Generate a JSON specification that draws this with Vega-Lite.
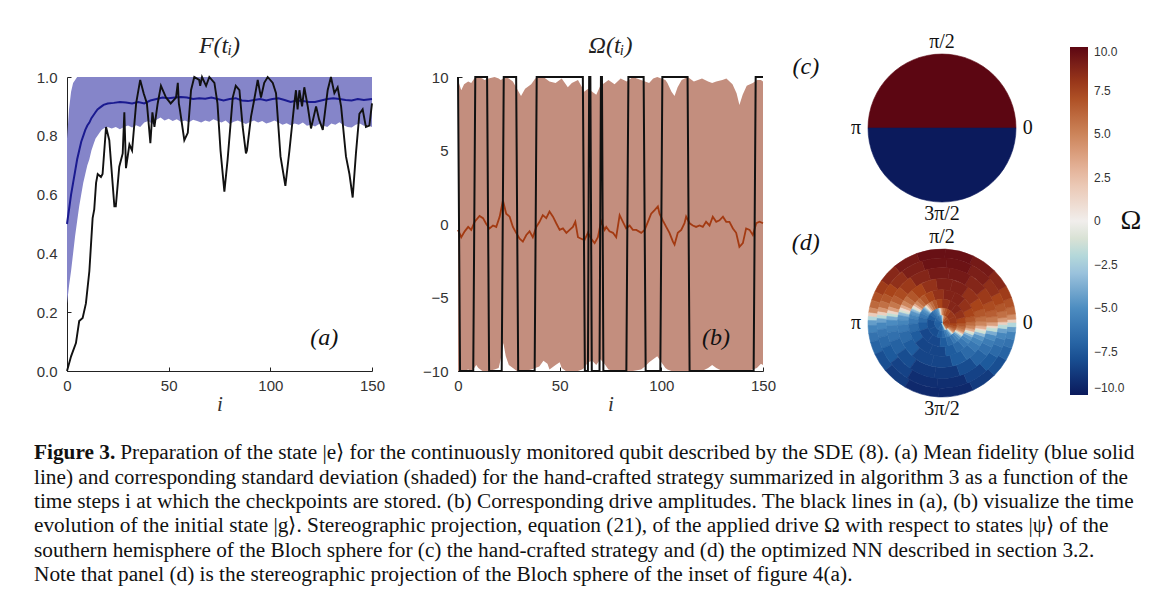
{
  "$schema": "https://vega.github.io/schema/vega-lite/v6.json",
  "padding": {"left": 33, "top": 32, "right": 5, "bottom": 5},
  "background": "white",
  "config": {
    "view": {"stroke": null},
    "font": "Liberation Sans",
    "axis": {"grid": false, "domainColor": "#222", "domainWidth": 1, "tickColor": "#222", "tickSize": -4, "labelFont": "Liberation Sans", "labelFontSize": 15, "labelColor": "#333", "labelPadding": 14, "labelFlush": false, "titleFont": "Liberation Serif", "titleFontStyle": "italic", "titleFontWeight": "normal", "titleFontSize": 21, "titleColor": "#333", "titlePadding": 2},
    "title": {"font": "Liberation Serif", "fontStyle": "italic", "fontWeight": "normal", "fontSize": 24, "color": "#222", "offset": 12}
  },
  "datasets": {
    "aband": [
      {"i":0,"lo":0.23,"hi":0.79},{"i":1,"lo":0.29,"hi":0.89},{"i":2,"lo":0.34,"hi":0.95},{"i":3,"lo":0.40,"hi":0.98},{"i":4,"lo":0.46,"hi":0.99},{"i":5,"lo":0.51,"hi":1},{"i":6,"lo":0.56,"hi":1},{"i":7,"lo":0.60,"hi":1},{"i":8,"lo":0.64,"hi":1},{"i":9,"lo":0.67,"hi":1},{"i":10,"lo":0.70,"hi":1},{"i":11,"lo":0.72,"hi":1},{"i":12,"lo":0.75,"hi":1},{"i":13,"lo":0.77,"hi":1},{"i":14,"lo":0.79,"hi":1},{"i":15,"lo":0.80,"hi":1},{"i":16,"lo":0.81,"hi":1},{"i":17,"lo":0.82,"hi":1},{"i":18,"lo":0.825,"hi":1},
      {"i":20,"lo":0.83,"hi":1},{"i":22,"lo":0.825,"hi":1},{"i":24,"lo":0.83,"hi":1},{"i":26,"lo":0.822,"hi":1},{"i":28,"lo":0.83,"hi":1},{"i":30,"lo":0.835,"hi":1},{"i":32,"lo":0.828,"hi":1},{"i":34,"lo":0.836,"hi":1},{"i":36,"lo":0.83,"hi":1},{"i":38,"lo":0.845,"hi":1},{"i":40,"lo":0.85,"hi":1},{"i":42,"lo":0.84,"hi":1},{"i":44,"lo":0.855,"hi":1},{"i":46,"lo":0.862,"hi":1},{"i":48,"lo":0.852,"hi":1},{"i":50,"lo":0.858,"hi":1},{"i":52,"lo":0.85,"hi":1},{"i":54,"lo":0.856,"hi":1},{"i":56,"lo":0.848,"hi":1},{"i":58,"lo":0.852,"hi":1},{"i":60,"lo":0.846,"hi":1},{"i":62,"lo":0.855,"hi":1},{"i":64,"lo":0.85,"hi":1},{"i":66,"lo":0.845,"hi":1},{"i":68,"lo":0.852,"hi":1},{"i":70,"lo":0.848,"hi":1},{"i":72,"lo":0.856,"hi":1},{"i":74,"lo":0.85,"hi":1},{"i":76,"lo":0.845,"hi":1},{"i":78,"lo":0.852,"hi":1},{"i":80,"lo":0.84,"hi":1},{"i":82,"lo":0.848,"hi":1},{"i":84,"lo":0.852,"hi":1},{"i":86,"lo":0.846,"hi":1},{"i":88,"lo":0.84,"hi":1},{"i":90,"lo":0.847,"hi":1},{"i":92,"lo":0.852,"hi":1},{"i":94,"lo":0.845,"hi":1},{"i":96,"lo":0.85,"hi":1},{"i":98,"lo":0.842,"hi":1},{"i":100,"lo":0.846,"hi":1},{"i":102,"lo":0.852,"hi":1},{"i":104,"lo":0.845,"hi":1},{"i":106,"lo":0.838,"hi":1},{"i":108,"lo":0.843,"hi":1},{"i":110,"lo":0.836,"hi":1},{"i":112,"lo":0.842,"hi":1},{"i":114,"lo":0.838,"hi":1},{"i":116,"lo":0.845,"hi":1},{"i":118,"lo":0.834,"hi":1},{"i":120,"lo":0.838,"hi":1},{"i":122,"lo":0.832,"hi":1},{"i":124,"lo":0.84,"hi":1},{"i":126,"lo":0.835,"hi":1},{"i":128,"lo":0.83,"hi":1},{"i":130,"lo":0.842,"hi":1},{"i":132,"lo":0.838,"hi":1},{"i":134,"lo":0.846,"hi":1},{"i":136,"lo":0.836,"hi":1},{"i":138,"lo":0.83,"hi":1},{"i":140,"lo":0.828,"hi":1},{"i":142,"lo":0.838,"hi":1},{"i":144,"lo":0.842,"hi":1},{"i":146,"lo":0.834,"hi":1},{"i":148,"lo":0.836,"hi":1},{"i":150,"lo":0.83,"hi":1}
    ],
    "amean": [
      {"i":0,"m":0.50},{"i":1,"m":0.55},{"i":2,"m":0.60},{"i":3,"m":0.64},{"i":4,"m":0.68},{"i":5,"m":0.72},{"i":6,"m":0.75},{"i":7,"m":0.78},{"i":8,"m":0.80},{"i":9,"m":0.82},{"i":10,"m":0.835},{"i":11,"m":0.845},{"i":12,"m":0.86},{"i":13,"m":0.87},{"i":14,"m":0.88},{"i":15,"m":0.89},{"i":16,"m":0.895},{"i":17,"m":0.90},{"i":18,"m":0.905},{"i":20,"m":0.91},{"i":23,"m":0.912},{"i":26,"m":0.915},{"i":29,"m":0.913},{"i":32,"m":0.91},{"i":35,"m":0.915},{"i":38,"m":0.91},{"i":41,"m":0.92},{"i":44,"m":0.925},{"i":47,"m":0.93},{"i":50,"m":0.928},{"i":53,"m":0.93},{"i":56,"m":0.932},{"i":59,"m":0.93},{"i":62,"m":0.925},{"i":65,"m":0.928},{"i":68,"m":0.926},{"i":71,"m":0.93},{"i":74,"m":0.925},{"i":77,"m":0.92},{"i":80,"m":0.925},{"i":83,"m":0.928},{"i":86,"m":0.92},{"i":89,"m":0.918},{"i":92,"m":0.922},{"i":95,"m":0.925},{"i":98,"m":0.92},{"i":101,"m":0.925},{"i":104,"m":0.928},{"i":107,"m":0.922},{"i":110,"m":0.915},{"i":113,"m":0.92},{"i":116,"m":0.918},{"i":119,"m":0.915},{"i":122,"m":0.915},{"i":125,"m":0.92},{"i":128,"m":0.925},{"i":131,"m":0.928},{"i":134,"m":0.925},{"i":137,"m":0.922},{"i":140,"m":0.92},{"i":143,"m":0.925},{"i":146,"m":0.922},{"i":150,"m":0.925}
    ],
    "ablack": [
      {"i":0,"f":0},{"i":2,"f":0.05},{"i":4.4,"f":0.095},{"i":6,"f":0.17},{"i":7.7,"f":0.18},{"i":9.3,"f":0.23},{"i":11,"f":0.34},{"i":12.6,"f":0.52},{"i":13.4,"f":0.55},{"i":14.3,"f":0.64},{"i":15.1,"f":0.67},{"i":16.7,"f":0.66},{"i":17.5,"f":0.67},{"i":19.2,"f":0.83},{"i":20.8,"f":0.785},{"i":23.3,"f":0.56},{"i":24,"f":0.56},{"i":25.7,"f":0.695},{"i":27.4,"f":0.74},{"i":28.2,"f":0.88},{"i":29,"f":0.69},{"i":30.7,"f":0.77},{"i":32,"f":0.75},{"i":34,"f":0.91},{"i":36,"f":0.99},{"i":37.7,"f":0.945},{"i":39.3,"f":0.91},{"i":41,"f":0.775},{"i":42,"f":0.88},{"i":43,"f":0.83},{"i":44.6,"f":0.91},{"i":46.2,"f":0.97},{"i":48.7,"f":0.93},{"i":51,"f":0.91},{"i":53.6,"f":0.93},{"i":54.5,"f":0.98},{"i":55,"f":0.91},{"i":55.5,"f":0.89},{"i":57.7,"f":0.785},{"i":59.4,"f":0.81},{"i":61,"f":0.955},{"i":62.6,"f":1.0},{"i":65,"f":0.99},{"i":65.5,"f":0.97},{"i":66.4,"f":1.0},{"i":68.4,"f":0.97},{"i":70,"f":1.0},{"i":72.5,"f":0.98},{"i":74,"f":0.91},{"i":75.5,"f":0.75},{"i":77.4,"f":0.61},{"i":79,"f":0.72},{"i":81.5,"f":0.93},{"i":83,"f":0.97},{"i":84.8,"f":0.955},{"i":86.4,"f":0.83},{"i":88,"f":0.74},{"i":88.5,"f":0.75},{"i":90.5,"f":0.865},{"i":92,"f":0.92},{"i":93.8,"f":0.99},{"i":95.4,"f":0.93},{"i":97,"f":0.98},{"i":98.7,"f":1.0},{"i":101.2,"f":0.98},{"i":102.8,"f":0.945},{"i":105,"f":0.73},{"i":107.4,"f":0.63},{"i":109.4,"f":0.75},{"i":111.8,"f":0.91},{"i":112.6,"f":0.955},{"i":113.4,"f":0.89},{"i":114.3,"f":0.955},{"i":115.6,"f":0.90},{"i":116.7,"f":0.965},{"i":118.4,"f":0.90},{"i":120,"f":0.825},{"i":122.5,"f":0.90},{"i":124,"f":0.855},{"i":125.8,"f":0.82},{"i":128.2,"f":0.955},{"i":129.8,"f":1.0},{"i":131.5,"f":0.945},{"i":133.1,"f":0.965},{"i":134.8,"f":0.90},{"i":137.2,"f":0.73},{"i":138.9,"f":0.67},{"i":140.5,"f":0.59},{"i":142.1,"f":0.74},{"i":143.8,"f":0.875},{"i":145.4,"f":0.89},{"i":147,"f":0.83},{"i":148.7,"f":0.835},{"i":150,"f":0.91}
    ],
    "bband": [
      {"i":0,"hi":9.8,"lo":-10},{"i":1.6,"hi":9.1,"lo":-10},{"i":3,"hi":9.5,"lo":-10},{"i":5,"hi":9.7,"lo":-9.9},{"i":6.5,"hi":9.6,"lo":-10},{"i":8,"hi":9.9,"lo":-9.8},{"i":9,"hi":10,"lo":-9.6},{"i":10,"hi":10,"lo":-9.8},{"i":12,"hi":9.9,"lo":-10},{"i":13,"hi":9.8,"lo":-10},{"i":15,"hi":9.9,"lo":-10},{"i":18,"hi":10,"lo":-9.9},{"i":20,"hi":9.9,"lo":-9.8},{"i":21,"hi":9.8,"lo":-9.2},{"i":22.3,"hi":9.9,"lo":-8.1},{"i":23.5,"hi":10,"lo":-9.0},{"i":25,"hi":9.9,"lo":-9.6},{"i":27,"hi":9.7,"lo":-9.8},{"i":29,"hi":9.2,"lo":-10},{"i":31,"hi":8.7,"lo":-10},{"i":33,"hi":9.2,"lo":-10},{"i":36,"hi":9.5,"lo":-9.9},{"i":38,"hi":9.9,"lo":-9.8},{"i":40,"hi":10,"lo":-9.7},{"i":42,"hi":10,"lo":-9.3},{"i":44,"hi":9.8,"lo":-9.5},{"i":45,"hi":9.7,"lo":-9.9},{"i":48,"hi":9.6,"lo":-9.6},{"i":50,"hi":9.8,"lo":-9.4},{"i":51,"hi":9.9,"lo":-9.8},{"i":53,"hi":9.5,"lo":-10},{"i":54,"hi":9.3,"lo":-10},{"i":56,"hi":9.6,"lo":-10},{"i":59,"hi":9.8,"lo":-10},{"i":61,"hi":9.3,"lo":-9.9},{"i":62,"hi":9.0,"lo":-9.8},{"i":64,"hi":9.2,"lo":-9.4},{"i":66,"hi":9.0,"lo":-9.3},{"i":68,"hi":8.8,"lo":-9.6},{"i":70,"hi":9.4,"lo":-9.2},{"i":72,"hi":9.6,"lo":-9.5},{"i":74,"hi":9.8,"lo":-9.9},{"i":77,"hi":9.5,"lo":-10},{"i":80,"hi":9.9,"lo":-10},{"i":83,"hi":9.7,"lo":-10},{"i":86,"hi":10,"lo":-10},{"i":90,"hi":9.8,"lo":-9.9},{"i":92,"hi":9.7,"lo":-9.7},{"i":94,"hi":9.6,"lo":-9.4},{"i":96,"hi":9.9,"lo":-9.2},{"i":98,"hi":10,"lo":-9.0},{"i":100,"hi":9.9,"lo":-9.4},{"i":102,"hi":9.8,"lo":-9.8},{"i":103,"hi":9.6,"lo":-9.9},{"i":105,"hi":9.0,"lo":-10},{"i":106.5,"hi":8.7,"lo":-10},{"i":108,"hi":9.3,"lo":-10},{"i":110,"hi":9.8,"lo":-10},{"i":113,"hi":10,"lo":-10},{"i":116,"hi":9.7,"lo":-10},{"i":120,"hi":9.9,"lo":-10},{"i":123,"hi":9.7,"lo":-9.8},{"i":125,"hi":9.6,"lo":-9.6},{"i":127,"hi":9.7,"lo":-9.8},{"i":130,"hi":9.8,"lo":-10},{"i":132,"hi":9.9,"lo":-10},{"i":135,"hi":9.5,"lo":-10},{"i":137,"hi":8.9,"lo":-10},{"i":138.4,"hi":8.1,"lo":-10},{"i":140,"hi":8.8,"lo":-10},{"i":142,"hi":9.4,"lo":-10},{"i":145,"hi":9.6,"lo":-9.9},{"i":147,"hi":9.8,"lo":-9.8},{"i":149,"hi":9.8,"lo":-9.5},{"i":150,"hi":9.7,"lo":-9.6}
    ],
    "bmean": [
      {"i":0,"m":-0.4},{"i":1.6,"m":-0.9},{"i":3.3,"m":-0.5},{"i":5,"m":-0.2},{"i":6.5,"m":-0.4},{"i":8.2,"m":0.15},{"i":10.6,"m":0.55},{"i":12.3,"m":0.4},{"i":13.9,"m":0},{"i":15.5,"m":-0.3},{"i":17.2,"m":-0.1},{"i":18.8,"m":-0.2},{"i":20.5,"m":0.5},{"i":22.1,"m":1.6},{"i":23.7,"m":0.7},{"i":25.4,"m":0.5},{"i":27,"m":-0.2},{"i":28.6,"m":-0.6},{"i":30.3,"m":-1.0},{"i":31.9,"m":-1.2},{"i":33.6,"m":-0.75},{"i":35.2,"m":-0.5},{"i":36.8,"m":-0.9},{"i":38.5,"m":-0.2},{"i":40.1,"m":0.15},{"i":41.7,"m":0.6},{"i":43.4,"m":0.4},{"i":45,"m":0.85},{"i":46.7,"m":0.5},{"i":48.3,"m":0.05},{"i":50,"m":-0.4},{"i":51.6,"m":-0.3},{"i":53.3,"m":-0.6},{"i":54.9,"m":-0.4},{"i":56.5,"m":-0.2},{"i":57.7,"m":0.15},{"i":59,"m":-0.9},{"i":60.6,"m":-1.0},{"i":62.2,"m":-1.1},{"i":63.9,"m":-0.6},{"i":65.5,"m":-1.0},{"i":67.2,"m":-1.3},{"i":68.8,"m":-0.9},{"i":70.4,"m":0.2},{"i":72.1,"m":-0.4},{"i":72.9,"m":-0.2},{"i":74.5,"m":-0.5},{"i":76.2,"m":-0.6},{"i":77.8,"m":-0.9},{"i":79.5,"m":0.6},{"i":81.1,"m":0.15},{"i":82.7,"m":-0.3},{"i":84.4,"m":-0.1},{"i":86,"m":-0.4},{"i":87.7,"m":-0.4},{"i":90.1,"m":-0.6},{"i":91.8,"m":-0.4},{"i":93.4,"m":0.15},{"i":95,"m":0.7},{"i":96.7,"m":0.95},{"i":98.3,"m":1.2},{"i":99.1,"m":0.7},{"i":100.7,"m":0.25},{"i":102.4,"m":-0.2},{"i":104,"m":-0.6},{"i":105.7,"m":-1.2},{"i":106.5,"m":-1.4},{"i":108.1,"m":-0.6},{"i":109.8,"m":-0.4},{"i":111.4,"m":0.05},{"i":112.2,"m":0.5},{"i":113.9,"m":0.05},{"i":115.5,"m":-0.1},{"i":117.1,"m":-0.2},{"i":118.8,"m":-0.1},{"i":120.4,"m":-0.2},{"i":122,"m":0.15},{"i":123.7,"m":-0.1},{"i":125.3,"m":0.5},{"i":127,"m":0.15},{"i":128.6,"m":0.25},{"i":130.3,"m":0.5},{"i":131.9,"m":0.15},{"i":133.5,"m":0.15},{"i":135.2,"m":-0.3},{"i":136.8,"m":-0.6},{"i":138.4,"m":-1.55},{"i":140.1,"m":-1.3},{"i":141.7,"m":-0.3},{"i":143.4,"m":-0.4},{"i":145,"m":-0.75},{"i":146.7,"m":0.05},{"i":148.3,"m":0.15},{"i":150,"m":0.05}
    ],
    "bblack": [
      {"i":0,"w":10},{"i":1,"w":-10},{"i":7.5,"w":-10},{"i":8.5,"w":10},{"i":14.3,"w":10},{"i":15.3,"w":-10},{"i":21.5,"w":-10},{"i":22.5,"w":10},{"i":28.6,"w":10},{"i":29.6,"w":-10},{"i":37.7,"w":-10},{"i":38.7,"w":10},{"i":61.4,"w":10},{"i":62.4,"w":-10},{"i":63.9,"w":-10},{"i":64.5,"w":10},{"i":65.1,"w":10},{"i":65.8,"w":-10},{"i":69.6,"w":-10},{"i":70.3,"w":10},{"i":70.8,"w":10},{"i":71.5,"w":-10},{"i":82.8,"w":-10},{"i":83.8,"w":10},{"i":91.3,"w":10},{"i":92.3,"w":-10},{"i":99.5,"w":-10},{"i":100.5,"w":10},{"i":112.9,"w":10},{"i":113.9,"w":-10},{"i":145.4,"w":-10},{"i":146.4,"w":10},{"i":150,"w":10}
    ],
    "discc": [
      {"a":0,"b":180,"v":10,"ri":0,"ro":1},{"a":180,"b":360,"v":-10,"ri":0,"ro":1}
    ],
    "discd": [
      {"a":0,"b":3,"v":1.8,"ri":0.88,"ro":1},{"a":3,"b":7,"v":4.6,"ri":0.88,"ro":1},{"a":7,"b":13,"v":6.1,"ri":0.88,"ro":1},{"a":13,"b":20,"v":7.0,"ri":0.88,"ro":1},{"a":20,"b":30,"v":7.8,"ri":0.88,"ro":1},{"a":30,"b":45,"v":8.6,"ri":0.88,"ro":1},{"a":45,"b":65,"v":9.2,"ri":0.88,"ro":1},{"a":65,"b":87.5,"v":9.6,"ri":0.88,"ro":1},{"a":87.5,"b":110,"v":9.6,"ri":0.88,"ro":1},{"a":110,"b":130,"v":9.2,"ri":0.88,"ro":1},{"a":130,"b":145,"v":8.6,"ri":0.88,"ro":1},{"a":145,"b":155,"v":7.8,"ri":0.88,"ro":1},{"a":155,"b":162,"v":7.0,"ri":0.88,"ro":1},{"a":162,"b":168,"v":6.1,"ri":0.88,"ro":1},{"a":168,"b":172,"v":4.6,"ri":0.88,"ro":1},{"a":172,"b":175,"v":1.8,"ri":0.88,"ro":1},
      {"a":175,"b":178,"v":-2.1,"ri":0.88,"ro":1},{"a":178,"b":182,"v":-4.4,"ri":0.88,"ro":1},{"a":182,"b":188,"v":-5.5,"ri":0.88,"ro":1},{"a":188,"b":195,"v":-6.3,"ri":0.88,"ro":1},{"a":195,"b":205,"v":-7.0,"ri":0.88,"ro":1},{"a":205,"b":220,"v":-7.9,"ri":0.88,"ro":1},{"a":220,"b":240,"v":-8.7,"ri":0.88,"ro":1},{"a":240,"b":267.5,"v":-9.4,"ri":0.88,"ro":1},{"a":267.5,"b":295,"v":-9.4,"ri":0.88,"ro":1},{"a":295,"b":315,"v":-8.7,"ri":0.88,"ro":1},{"a":315,"b":330,"v":-7.9,"ri":0.88,"ro":1},{"a":330,"b":340,"v":-7.0,"ri":0.88,"ro":1},{"a":340,"b":347,"v":-6.3,"ri":0.88,"ro":1},{"a":347,"b":353,"v":-5.5,"ri":0.88,"ro":1},{"a":353,"b":357,"v":-4.4,"ri":0.88,"ro":1},{"a":357,"b":360,"v":-2.1,"ri":0.88,"ro":1},
      {"a":-2,"b":1,"v":1.6,"ri":0.75,"ro":0.88},{"a":1,"b":5,"v":4.2,"ri":0.75,"ro":0.88},{"a":5,"b":11,"v":5.8,"ri":0.75,"ro":0.88},{"a":11,"b":18,"v":6.8,"ri":0.75,"ro":0.88},{"a":18,"b":28,"v":7.5,"ri":0.75,"ro":0.88},{"a":28,"b":43,"v":8.3,"ri":0.75,"ro":0.88},{"a":43,"b":63,"v":9.0,"ri":0.75,"ro":0.88},{"a":63,"b":85.5,"v":9.5,"ri":0.75,"ro":0.88},{"a":85.5,"b":108,"v":9.5,"ri":0.75,"ro":0.88},{"a":108,"b":128,"v":9.0,"ri":0.75,"ro":0.88},{"a":128,"b":143,"v":8.3,"ri":0.75,"ro":0.88},{"a":143,"b":153,"v":7.5,"ri":0.75,"ro":0.88},{"a":153,"b":160,"v":6.8,"ri":0.75,"ro":0.88},{"a":160,"b":166,"v":5.8,"ri":0.75,"ro":0.88},{"a":166,"b":170,"v":4.2,"ri":0.75,"ro":0.88},{"a":170,"b":173,"v":1.6,"ri":0.75,"ro":0.88},
      {"a":173,"b":176,"v":-1.9,"ri":0.75,"ro":0.88},{"a":176,"b":180,"v":-4.2,"ri":0.75,"ro":0.88},{"a":180,"b":186,"v":-5.3,"ri":0.75,"ro":0.88},{"a":186,"b":193,"v":-6.1,"ri":0.75,"ro":0.88},{"a":193,"b":203,"v":-6.7,"ri":0.75,"ro":0.88},{"a":203,"b":218,"v":-7.5,"ri":0.75,"ro":0.88},{"a":218,"b":238,"v":-8.4,"ri":0.75,"ro":0.88},{"a":238,"b":265.5,"v":-9.2,"ri":0.75,"ro":0.88},{"a":265.5,"b":293,"v":-9.2,"ri":0.75,"ro":0.88},{"a":293,"b":313,"v":-8.4,"ri":0.75,"ro":0.88},{"a":313,"b":328,"v":-7.5,"ri":0.75,"ro":0.88},{"a":328,"b":338,"v":-6.7,"ri":0.75,"ro":0.88},{"a":338,"b":345,"v":-6.1,"ri":0.75,"ro":0.88},{"a":345,"b":351,"v":-5.3,"ri":0.75,"ro":0.88},{"a":351,"b":355,"v":-4.2,"ri":0.75,"ro":0.88},{"a":355,"b":358,"v":-1.9,"ri":0.75,"ro":0.88},
      {"a":-6,"b":-3,"v":1.3,"ri":0.6,"ro":0.75},{"a":-3,"b":1,"v":3.8,"ri":0.6,"ro":0.75},{"a":1,"b":7,"v":5.5,"ri":0.6,"ro":0.75},{"a":7,"b":14,"v":6.5,"ri":0.6,"ro":0.75},{"a":14,"b":24,"v":7.2,"ri":0.6,"ro":0.75},{"a":24,"b":39,"v":7.9,"ri":0.6,"ro":0.75},{"a":39,"b":59,"v":8.7,"ri":0.6,"ro":0.75},{"a":59,"b":82,"v":9.2,"ri":0.6,"ro":0.75},{"a":82,"b":105,"v":9.2,"ri":0.6,"ro":0.75},{"a":105,"b":125,"v":8.7,"ri":0.6,"ro":0.75},{"a":125,"b":140,"v":7.9,"ri":0.6,"ro":0.75},{"a":140,"b":150,"v":7.2,"ri":0.6,"ro":0.75},{"a":150,"b":157,"v":6.5,"ri":0.6,"ro":0.75},{"a":157,"b":163,"v":5.5,"ri":0.6,"ro":0.75},{"a":163,"b":167,"v":3.8,"ri":0.6,"ro":0.75},{"a":167,"b":170,"v":1.3,"ri":0.6,"ro":0.75},
      {"a":170,"b":173,"v":-1.6,"ri":0.6,"ro":0.75},{"a":173,"b":177,"v":-3.8,"ri":0.6,"ro":0.75},{"a":177,"b":183,"v":-5.1,"ri":0.6,"ro":0.75},{"a":183,"b":190,"v":-5.8,"ri":0.6,"ro":0.75},{"a":190,"b":200,"v":-6.4,"ri":0.6,"ro":0.75},{"a":200,"b":215,"v":-7.1,"ri":0.6,"ro":0.75},{"a":215,"b":235,"v":-8.0,"ri":0.6,"ro":0.75},{"a":235,"b":262,"v":-8.8,"ri":0.6,"ro":0.75},{"a":262,"b":289,"v":-8.8,"ri":0.6,"ro":0.75},{"a":289,"b":309,"v":-8.0,"ri":0.6,"ro":0.75},{"a":309,"b":324,"v":-7.1,"ri":0.6,"ro":0.75},{"a":324,"b":334,"v":-6.4,"ri":0.6,"ro":0.75},{"a":334,"b":341,"v":-5.8,"ri":0.6,"ro":0.75},{"a":341,"b":347,"v":-5.1,"ri":0.6,"ro":0.75},{"a":347,"b":351,"v":-3.8,"ri":0.6,"ro":0.75},{"a":351,"b":354,"v":-1.6,"ri":0.6,"ro":0.75},
      {"a":-11,"b":-8,"v":1.0,"ri":0.45,"ro":0.6},{"a":-8,"b":-4,"v":3.2,"ri":0.45,"ro":0.6},{"a":-4,"b":2,"v":4.9,"ri":0.45,"ro":0.6},{"a":2,"b":9,"v":5.9,"ri":0.45,"ro":0.6},{"a":9,"b":19,"v":6.8,"ri":0.45,"ro":0.6},{"a":19,"b":34,"v":7.5,"ri":0.45,"ro":0.6},{"a":34,"b":54,"v":8.2,"ri":0.45,"ro":0.6},{"a":54,"b":76,"v":8.9,"ri":0.45,"ro":0.6},{"a":76,"b":98,"v":8.9,"ri":0.45,"ro":0.6},{"a":98,"b":118,"v":8.2,"ri":0.45,"ro":0.6},{"a":118,"b":133,"v":7.5,"ri":0.45,"ro":0.6},{"a":133,"b":143,"v":6.8,"ri":0.45,"ro":0.6},{"a":143,"b":150,"v":5.9,"ri":0.45,"ro":0.6},{"a":150,"b":156,"v":4.9,"ri":0.45,"ro":0.6},{"a":156,"b":160,"v":3.2,"ri":0.45,"ro":0.6},{"a":160,"b":163,"v":1.0,"ri":0.45,"ro":0.6},
      {"a":163,"b":166,"v":-1.2,"ri":0.45,"ro":0.6},{"a":166,"b":170,"v":-3.4,"ri":0.45,"ro":0.6},{"a":170,"b":176,"v":-4.7,"ri":0.45,"ro":0.6},{"a":176,"b":183,"v":-5.4,"ri":0.45,"ro":0.6},{"a":183,"b":193,"v":-6.0,"ri":0.45,"ro":0.6},{"a":193,"b":208,"v":-6.7,"ri":0.45,"ro":0.6},{"a":208,"b":228,"v":-7.4,"ri":0.45,"ro":0.6},{"a":228,"b":256,"v":-8.3,"ri":0.45,"ro":0.6},{"a":256,"b":284,"v":-8.3,"ri":0.45,"ro":0.6},{"a":284,"b":304,"v":-7.4,"ri":0.45,"ro":0.6},{"a":304,"b":319,"v":-6.7,"ri":0.45,"ro":0.6},{"a":319,"b":329,"v":-6.0,"ri":0.45,"ro":0.6},{"a":329,"b":336,"v":-5.4,"ri":0.45,"ro":0.6},{"a":336,"b":342,"v":-4.7,"ri":0.45,"ro":0.6},{"a":342,"b":346,"v":-3.4,"ri":0.45,"ro":0.6},{"a":346,"b":349,"v":-1.2,"ri":0.45,"ro":0.6},
      {"a":-18,"b":-15,"v":1.0,"ri":0.32,"ro":0.45},{"a":-15,"b":-11,"v":3.2,"ri":0.32,"ro":0.45},{"a":-11,"b":-5,"v":4.9,"ri":0.32,"ro":0.45},{"a":-5,"b":2,"v":5.9,"ri":0.32,"ro":0.45},{"a":2,"b":12,"v":6.8,"ri":0.32,"ro":0.45},{"a":12,"b":27,"v":7.5,"ri":0.32,"ro":0.45},{"a":27,"b":47,"v":8.2,"ri":0.32,"ro":0.45},{"a":47,"b":67,"v":8.8,"ri":0.32,"ro":0.45},{"a":67,"b":87,"v":8.8,"ri":0.32,"ro":0.45},{"a":87,"b":107,"v":8.2,"ri":0.32,"ro":0.45},{"a":107,"b":122,"v":7.5,"ri":0.32,"ro":0.45},{"a":122,"b":132,"v":6.8,"ri":0.32,"ro":0.45},{"a":132,"b":139,"v":5.9,"ri":0.32,"ro":0.45},{"a":139,"b":145,"v":4.9,"ri":0.32,"ro":0.45},{"a":145,"b":149,"v":3.2,"ri":0.32,"ro":0.45},{"a":149,"b":152,"v":1.0,"ri":0.32,"ro":0.45},
      {"a":152,"b":155,"v":-1.2,"ri":0.32,"ro":0.45},{"a":155,"b":159,"v":-3.4,"ri":0.32,"ro":0.45},{"a":159,"b":165,"v":-4.7,"ri":0.32,"ro":0.45},{"a":165,"b":172,"v":-5.4,"ri":0.32,"ro":0.45},{"a":172,"b":182,"v":-6.0,"ri":0.32,"ro":0.45},{"a":182,"b":197,"v":-6.7,"ri":0.32,"ro":0.45},{"a":197,"b":217,"v":-7.4,"ri":0.32,"ro":0.45},{"a":217,"b":247,"v":-8.3,"ri":0.32,"ro":0.45},{"a":247,"b":277,"v":-8.3,"ri":0.32,"ro":0.45},{"a":277,"b":297,"v":-7.4,"ri":0.32,"ro":0.45},{"a":297,"b":312,"v":-6.7,"ri":0.32,"ro":0.45},{"a":312,"b":322,"v":-6.0,"ri":0.32,"ro":0.45},{"a":322,"b":329,"v":-5.4,"ri":0.32,"ro":0.45},{"a":329,"b":335,"v":-4.7,"ri":0.32,"ro":0.45},{"a":335,"b":339,"v":-3.4,"ri":0.32,"ro":0.45},{"a":339,"b":342,"v":-1.2,"ri":0.32,"ro":0.45},
      {"a":-30,"b":-27,"v":1.0,"ri":0.2,"ro":0.32},{"a":-27,"b":-23,"v":3.2,"ri":0.2,"ro":0.32},{"a":-23,"b":-17,"v":4.9,"ri":0.2,"ro":0.32},{"a":-17,"b":-10,"v":5.9,"ri":0.2,"ro":0.32},{"a":-10,"b":0,"v":6.8,"ri":0.2,"ro":0.32},{"a":0,"b":15,"v":7.5,"ri":0.2,"ro":0.32},{"a":15,"b":35,"v":8.2,"ri":0.2,"ro":0.32},{"a":35,"b":52.5,"v":8.7,"ri":0.2,"ro":0.32},{"a":52.5,"b":70,"v":8.7,"ri":0.2,"ro":0.32},{"a":70,"b":90,"v":8.2,"ri":0.2,"ro":0.32},{"a":90,"b":105,"v":7.5,"ri":0.2,"ro":0.32},{"a":105,"b":115,"v":6.8,"ri":0.2,"ro":0.32},{"a":115,"b":122,"v":5.9,"ri":0.2,"ro":0.32},{"a":122,"b":128,"v":4.9,"ri":0.2,"ro":0.32},{"a":128,"b":132,"v":3.2,"ri":0.2,"ro":0.32},{"a":132,"b":135,"v":1.0,"ri":0.2,"ro":0.32},
      {"a":135,"b":138,"v":-1.2,"ri":0.2,"ro":0.32},{"a":138,"b":142,"v":-3.4,"ri":0.2,"ro":0.32},{"a":142,"b":148,"v":-4.7,"ri":0.2,"ro":0.32},{"a":148,"b":155,"v":-5.4,"ri":0.2,"ro":0.32},{"a":155,"b":165,"v":-6.0,"ri":0.2,"ro":0.32},{"a":165,"b":180,"v":-6.7,"ri":0.2,"ro":0.32},{"a":180,"b":200,"v":-7.4,"ri":0.2,"ro":0.32},{"a":200,"b":232.5,"v":-8.2,"ri":0.2,"ro":0.32},{"a":232.5,"b":265,"v":-8.2,"ri":0.2,"ro":0.32},{"a":265,"b":285,"v":-7.4,"ri":0.2,"ro":0.32},{"a":285,"b":300,"v":-6.7,"ri":0.2,"ro":0.32},{"a":300,"b":310,"v":-6.0,"ri":0.2,"ro":0.32},{"a":310,"b":317,"v":-5.4,"ri":0.2,"ro":0.32},{"a":317,"b":323,"v":-4.7,"ri":0.2,"ro":0.32},{"a":323,"b":327,"v":-3.4,"ri":0.2,"ro":0.32},{"a":327,"b":330,"v":-1.2,"ri":0.2,"ro":0.32},
      {"a":-45,"b":-42,"v":1.0,"ri":0.1,"ro":0.2},{"a":-42,"b":-38,"v":3.2,"ri":0.1,"ro":0.2},{"a":-38,"b":-32,"v":4.9,"ri":0.1,"ro":0.2},{"a":-32,"b":-25,"v":5.9,"ri":0.1,"ro":0.2},{"a":-25,"b":-15,"v":6.8,"ri":0.1,"ro":0.2},{"a":-15,"b":0,"v":7.5,"ri":0.1,"ro":0.2},{"a":0,"b":27.5,"v":8.0,"ri":0.1,"ro":0.2},{"a":27.5,"b":55,"v":8.0,"ri":0.1,"ro":0.2},{"a":55,"b":70,"v":7.5,"ri":0.1,"ro":0.2},{"a":70,"b":80,"v":6.8,"ri":0.1,"ro":0.2},{"a":80,"b":87,"v":5.9,"ri":0.1,"ro":0.2},{"a":87,"b":93,"v":4.9,"ri":0.1,"ro":0.2},{"a":93,"b":97,"v":3.2,"ri":0.1,"ro":0.2},{"a":97,"b":100,"v":1.0,"ri":0.1,"ro":0.2},
      {"a":100,"b":103,"v":-1.2,"ri":0.1,"ro":0.2},{"a":103,"b":107,"v":-3.4,"ri":0.1,"ro":0.2},{"a":107,"b":113,"v":-4.7,"ri":0.1,"ro":0.2},{"a":113,"b":120,"v":-5.4,"ri":0.1,"ro":0.2},{"a":120,"b":130,"v":-6.0,"ri":0.1,"ro":0.2},{"a":130,"b":145,"v":-6.7,"ri":0.1,"ro":0.2},{"a":145,"b":165,"v":-7.4,"ri":0.1,"ro":0.2},{"a":165,"b":207.5,"v":-8.0,"ri":0.1,"ro":0.2},{"a":207.5,"b":250,"v":-8.0,"ri":0.1,"ro":0.2},{"a":250,"b":270,"v":-7.4,"ri":0.1,"ro":0.2},{"a":270,"b":285,"v":-6.7,"ri":0.1,"ro":0.2},{"a":285,"b":295,"v":-6.0,"ri":0.1,"ro":0.2},{"a":295,"b":302,"v":-5.4,"ri":0.1,"ro":0.2},{"a":302,"b":308,"v":-4.7,"ri":0.1,"ro":0.2},{"a":308,"b":312,"v":-3.4,"ri":0.1,"ro":0.2},{"a":312,"b":315,"v":-1.2,"ri":0.1,"ro":0.2},
      {"a":-62,"b":-58,"v":1.5,"ri":0,"ro":0.1},{"a":-58,"b":-50,"v":4.0,"ri":0,"ro":0.1},{"a":-50,"b":-35,"v":5.8,"ri":0,"ro":0.1},{"a":-35,"b":-10,"v":7.0,"ri":0,"ro":0.1},{"a":-10,"b":35,"v":7.6,"ri":0,"ro":0.1},{"a":35,"b":60,"v":7.0,"ri":0,"ro":0.1},{"a":60,"b":75,"v":5.8,"ri":0,"ro":0.1},{"a":75,"b":83,"v":4.0,"ri":0,"ro":0.1},{"a":83,"b":88,"v":1.5,"ri":0,"ro":0.1},
      {"a":88,"b":92,"v":-1.5,"ri":0,"ro":0.1},{"a":92,"b":100,"v":-3.8,"ri":0,"ro":0.1},{"a":100,"b":115,"v":-5.3,"ri":0,"ro":0.1},{"a":115,"b":140,"v":-6.3,"ri":0,"ro":0.1},{"a":140,"b":180,"v":-7.0,"ri":0,"ro":0.1},{"a":180,"b":240,"v":-7.2,"ri":0,"ro":0.1},{"a":240,"b":270,"v":-7.0,"ri":0,"ro":0.1},{"a":270,"b":283,"v":-6.3,"ri":0,"ro":0.1},{"a":283,"b":290,"v":-5.3,"ri":0,"ro":0.1},{"a":290,"b":295,"v":-3.8,"ri":0,"ro":0.1},{"a":295,"b":298,"v":-1.5,"ri":0,"ro":0.1}
    ],
    "angl": [
      {"lab":"π/2","ang":90},{"lab":"π","ang":180},{"lab":"0","ang":0},{"lab":"3π/2","ang":270}
    ],
    "cap": [
      {"n":2,"t":"line) and corresponding standard deviation (shaded) for the hand-crafted strategy summarized in algorithm 3 as a function of the"},
      {"n":3,"t":"time steps i at which the checkpoints are stored. (b) Corresponding drive amplitudes. The black lines in (a), (b) visualize the time"},
      {"n":4,"t":"evolution of the initial state |g⟩. Stereographic projection, equation (21), of the applied drive Ω with respect to states |ψ⟩ of the"},
      {"n":5,"t":"southern hemisphere of the Bloch sphere for (c) the hand-crafted strategy and (d) the optimized NN described in section 3.2."},
      {"n":6,"t":"Note that panel (d) is the stereographic projection of the Bloch sphere of the inset of figure 4(a)."}
    ]
  },
  "spacing": 22,
  "align": "none",
  "resolve": {"scale": {"color": "independent"}, "legend": {"color": "independent"}},
  "vconcat": [
    {
      "hconcat": [
        {
          "width": 305, "height": 294,
          "title": {"text": "F(tᵢ)"},
          "layer": [
            {"data": {"name": "aband"}, "mark": {"type": "area", "color": "#8585c9", "opacity": 1},
             "encoding": {
               "x": {"field": "i", "type": "quantitative", "scale": {"domain": [0, 150], "nice": false, "zero": false}, "axis": {"values": [0, 50, 100, 150], "title": "i", "labelPadding": 11, "titlePadding": 0}},
               "y": {"field": "lo", "type": "quantitative", "scale": {"domain": [0, 1], "nice": false}, "axis": {"values": [0, 0.2, 0.4, 0.6, 0.8, 1.0], "format": ".1f", "title": null}},
               "y2": {"field": "hi"}}},
            {"data": {"name": "amean"}, "mark": {"type": "line", "color": "#1a1a90", "strokeWidth": 2},
             "encoding": {"x": {"field": "i", "type": "quantitative"}, "y": {"field": "m", "type": "quantitative"}}},
            {"data": {"name": "ablack"}, "mark": {"type": "line", "color": "#111111", "strokeWidth": 1.9},
             "encoding": {"x": {"field": "i", "type": "quantitative"}, "y": {"field": "f", "type": "quantitative"}}},
            {"data": {"values": [{}]}, "mark": {"type": "text", "font": "Liberation Serif", "fontStyle": "italic", "fontSize": 24, "color": "#111111"},
             "encoding": {"x": {"datum": 126.5, "type": "quantitative"}, "y": {"datum": 0.112, "type": "quantitative"}, "text": {"value": "(a)"}}}
          ]
        },
        {
          "width": 305, "height": 294,
          "title": {"text": "Ω(tᵢ)"},
          "layer": [
            {"data": {"name": "bband"}, "mark": {"type": "area", "color": "#c38e7e", "opacity": 1},
             "encoding": {
               "x": {"field": "i", "type": "quantitative", "scale": {"domain": [0, 150], "nice": false, "zero": false}, "axis": {"values": [0, 50, 100, 150], "title": "i", "labelPadding": 11, "titlePadding": 0}},
               "y": {"field": "lo", "type": "quantitative", "scale": {"domain": [-10, 10], "nice": false}, "axis": {"values": [-10, -5, 0, 5, 10], "title": null}},
               "y2": {"field": "hi"}}},
            {"data": {"name": "bmean"}, "mark": {"type": "line", "color": "#a33a12", "strokeWidth": 1.8},
             "encoding": {"x": {"field": "i", "type": "quantitative"}, "y": {"field": "m", "type": "quantitative"}}},
            {"data": {"name": "bblack"}, "mark": {"type": "line", "color": "#111111", "strokeWidth": 2},
             "encoding": {"x": {"field": "i", "type": "quantitative"}, "y": {"field": "w", "type": "quantitative"}}},
            {"data": {"values": [{}]}, "mark": {"type": "text", "font": "Liberation Serif", "fontStyle": "italic", "fontSize": 24, "color": "#111111"},
             "encoding": {"x": {"datum": 126.9, "type": "quantitative"}, "y": {"datum": -7.77, "type": "quantitative"}, "text": {"value": "(b)"}}}
          ]
        },
        {
          "width": 186, "height": 354,
          "layer": [
            {"data": {"name": "discc"}, "mark": {"type": "arc", "strokeWidth": 0.6},
             "encoding": {
               "x": {"datum": 0, "type": "quantitative", "scale": {"domain": [-1.2568, 1.2568], "nice": false, "zero": false}, "axis": null},
               "y": {"datum": 0, "type": "quantitative", "scale": {"domain": [-3.689, 1.095], "nice": false, "zero": false}, "axis": null},
               "theta": {"field": "a", "type": "quantitative", "stack": null, "scale": {"domain": [90, -270], "range": [0, 6.283185], "zero": false}},
               "theta2": {"field": "b"},
               "radius": {"field": "ro", "type": "quantitative", "scale": {"type": "linear", "domain": [0, 1], "range": [0, 74], "zero": true}},
               "radius2": {"field": "ri"},
               "color": {"field": "v", "type": "quantitative",
                 "scale": {"type": "linear", "domain": [-10, -7.5, -5, -2.5, 0, 2.5, 5, 7.5, 10], "range": ["#0b1a5c", "#1d5a9c", "#4d8dc1", "#aecfe3", "#f1eeec", "#e9bfa9", "#cc845a", "#a8441a", "#5c0612"]},
                 "legend": {"orient": "right", "offset": 35, "padding": 0, "gradientLength": 348, "gradientThickness": 18, "gradientStrokeWidth": 0, "values": [10, 7.5, 5, 2.5, 0, -2.5, -5, -7.5, -10], "labelExpr": "datum.value == 0 ? '0' : format(datum.value, '.1f')", "labelFont": "Liberation Sans", "labelFontSize": 12, "labelColor": "#333", "labelOffset": 6, "title": null}},
               "stroke": {"field": "v", "type": "quantitative",
                 "scale": {"type": "linear", "domain": [-10, -7.5, -5, -2.5, 0, 2.5, 5, 7.5, 10], "range": ["#0b1a5c", "#1d5a9c", "#4d8dc1", "#aecfe3", "#f1eeec", "#e9bfa9", "#cc845a", "#a8441a", "#5c0612"]}, "legend": null}}},
            {"data": {"name": "discd"}, "mark": {"type": "arc", "strokeWidth": 0.6},
             "encoding": {
               "x": {"datum": 0, "type": "quantitative"},
               "y": {"datum": -2.635, "type": "quantitative"},
               "theta": {"field": "a", "type": "quantitative", "stack": null},
               "theta2": {"field": "b"},
               "radius": {"field": "ro", "type": "quantitative"},
               "radius2": {"field": "ri"},
               "color": {"field": "v", "type": "quantitative"},
               "stroke": {"field": "v", "type": "quantitative", "legend": null}}},
            {"data": {"name": "angl"}, "mark": {"type": "text", "font": "Liberation Serif", "fontSize": 20, "align": "center", "baseline": "middle", "color": "#111"},
             "encoding": {"x": {"datum": 0, "type": "quantitative"}, "y": {"datum": 0, "type": "quantitative"}, "theta": {"field": "ang", "type": "quantitative", "stack": null}, "radius": {"datum": 1.16, "type": "quantitative"}, "text": {"field": "lab"}}},
            {"data": {"name": "angl"}, "mark": {"type": "text", "font": "Liberation Serif", "fontSize": 20, "align": "center", "baseline": "middle", "color": "#111"},
             "encoding": {"x": {"datum": 0, "type": "quantitative"}, "y": {"datum": -2.635, "type": "quantitative"}, "theta": {"field": "ang", "type": "quantitative", "stack": null}, "radius": {"datum": 1.16, "type": "quantitative"}, "text": {"field": "lab"}}},
            {"data": {"values": [{}]}, "mark": {"type": "text", "font": "Liberation Serif", "fontStyle": "italic", "fontSize": 24, "align": "center", "baseline": "middle", "color": "#111"},
             "encoding": {"x": {"datum": -1.84, "type": "quantitative"}, "y": {"datum": 0.82, "type": "quantitative"}, "text": {"value": "(c)"}}},
            {"data": {"values": [{}]}, "mark": {"type": "text", "font": "Liberation Serif", "fontStyle": "italic", "fontSize": 24, "align": "center", "baseline": "middle", "color": "#111"},
             "encoding": {"x": {"datum": -1.84, "type": "quantitative"}, "y": {"datum": -1.554, "type": "quantitative"}, "text": {"value": "(d)"}}},
            {"data": {"values": [{}]}, "mark": {"type": "text", "font": "Liberation Serif", "fontSize": 28, "align": "center", "baseline": "middle", "color": "#111"},
             "encoding": {"x": {"datum": 2.554, "type": "quantitative"}, "y": {"datum": -1.257, "type": "quantitative"}, "text": {"value": "Ω"}}}
          ]
        }
      ],
      "spacing": 86,
      "bounds": "flush",
      "center": true,
      "resolve": {"scale": {"color": "independent"}, "legend": {"color": "independent"}}
    },
    {
      "width": 1073, "height": 146,
      "layer": [
        {"data": {"name": "cap"}, "mark": {"type": "text", "align": "left", "baseline": "middle", "font": "Liberation Serif", "fontSize": 21.3, "color": "#111"},
         "encoding": {"x": {"datum": 0, "type": "quantitative", "scale": {"domain": [0.02984, 1], "nice": false, "zero": false}, "axis": null},
                      "y": {"field": "n", "type": "quantitative", "scale": {"domain": [0.5, 6.5], "reverse": true, "nice": false, "zero": false}, "axis": null},
                      "text": {"field": "t"}}},
        {"data": {"values": [{"n": 1, "t": "Preparation of the state |e⟩ for the continuously monitored qubit described by the SDE (8). (a) Mean fidelity (blue solid"}]},
         "mark": {"type": "text", "align": "left", "baseline": "middle", "font": "Liberation Serif", "fontSize": 21.3, "color": "#111"},
         "encoding": {"x": {"datum": 0.078, "type": "quantitative"}, "y": {"field": "n", "type": "quantitative"}, "text": {"field": "t"}}},
        {"data": {"values": [{"n": 1, "t": "Figure 3."}]},
         "mark": {"type": "text", "align": "left", "baseline": "middle", "font": "Liberation Serif", "fontSize": 21.3, "fontWeight": "bold", "color": "#111"},
         "encoding": {"x": {"datum": 0, "type": "quantitative"}, "y": {"field": "n", "type": "quantitative"}, "text": {"field": "t"}}}
      ]
    }
  ]
}
